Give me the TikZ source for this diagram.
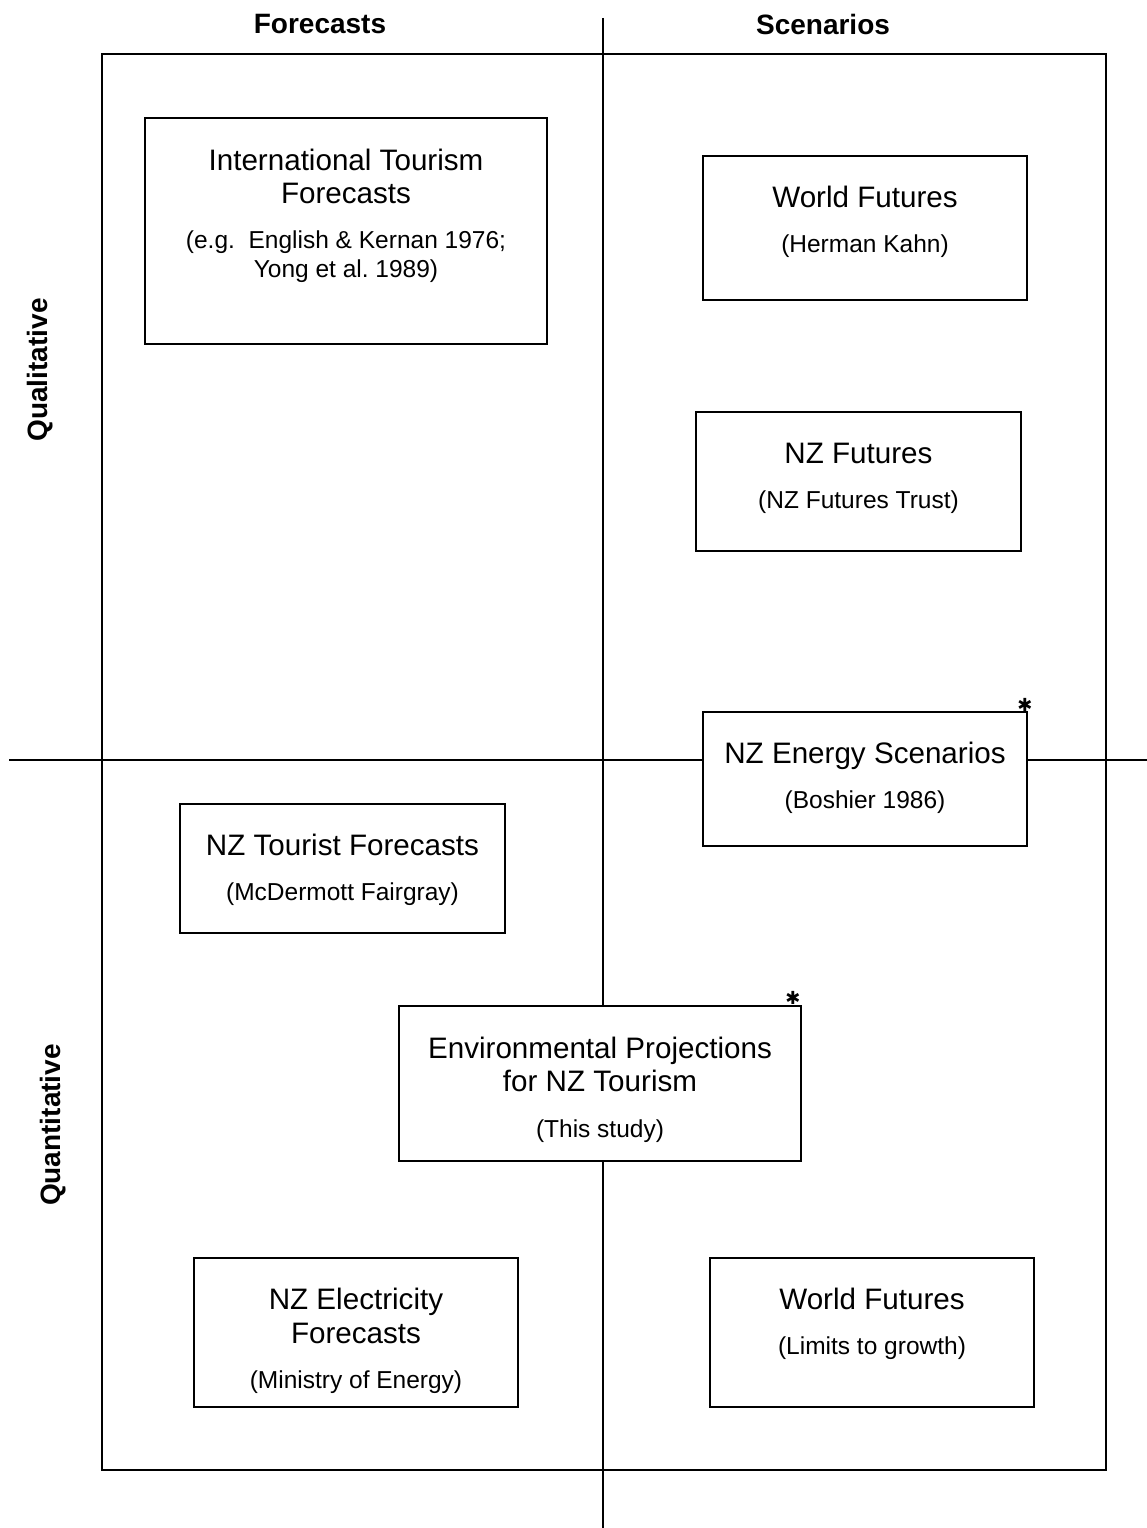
\documentclass[tikz,border=0pt]{standalone}
\usepackage{fontspec}
\setmainfont{Liberation Sans}
\newfontfamily\symfont{DejaVu Sans}
\begin{document}
\frenchspacing
\begin{tikzpicture}[x=1pt,y=-1pt,
  frame/.style={line width=1.8pt},
  axis/.style={line width=1.8pt},
  box/.style={draw,line width=1.8pt,fill=white,inner sep=0pt,rectangle},
  ttl/.style={anchor=base,inner sep=0pt,font=\fontsize{29.6}{34}\selectfont},
  sub/.style={anchor=base,inner sep=0pt,font=\fontsize{24.5}{29}\selectfont},
  head/.style={inner sep=0pt,font=\fontsize{28}{32}\selectfont\bfseries},
  starmark/.style={inner sep=0pt,font=\fontsize{18}{18}\selectfont\symfont}]
\useasboundingbox (0,0) rectangle (1147,1528);

% outer frame and axes
\draw[frame] (102,54) rectangle (1106,1470);
\coordinate (vt) at (603,18);
\coordinate (vb) at (603,1528);
\coordinate (hl) at (9,760);
\coordinate (hr) at (1147,760);
\draw[axis] (vt) -- (vb);
\draw[axis] (hl) -- (hr);

% axis headings
\node[head] (hf) at (320,24) {Forecasts};
\node[head] (hs) at (823,24) {Scenarios};
\node[head,rotate=90] (hq) at (40,370) {Qualitative};
\node[head,rotate=90] (hn) at (53,1125) {Quantitative};

% International Tourism Forecasts
\node[box,minimum width=402pt,minimum height=226pt] (b1) at (346,231) {};
\node[ttl] (b1a) at (346,170) {International Tourism};
\node[ttl] (b1b) at (346,203) {Forecasts};
\node[sub] (b1c) at (346,248) {(e.g.\ \ English \& Kernan 1976;};
\node[sub] (b1d) at (346,277) {Yong et al. 1989)};

% World Futures (Herman Kahn)
\node[box,minimum width=324pt,minimum height=144pt] (b2) at (865,228) {};
\node[ttl] (b2a) at (865,207.5) {World Futures};
\node[sub] (b2b) at (865,252) {(Herman Kahn)};

% NZ Futures
\node[box,minimum width=325pt,minimum height=139pt] (b3) at (858.5,481.5) {};
\node[ttl] (b3a) at (858.5,463.5) {NZ Futures};
\node[sub] (b3b) at (858.5,508) {(NZ Futures Trust)};

% NZ Energy Scenarios
\node[box,minimum width=324pt,minimum height=134pt] (b4) at (865,779) {};
\node[ttl] (b4a) at (865,763.5) {NZ Energy Scenarios};
\node[sub] (b4b) at (865,808) {(Boshier 1986)};
\node[starmark] (m4) at (1025,705) {✱};

% NZ Tourist Forecasts
\node[box,minimum width=325pt,minimum height=129pt] (b5) at (342.5,868.5) {};
\node[ttl] (b5a) at (342.5,855.5) {NZ Tourist Forecasts};
\node[sub] (b5b) at (342.5,900) {(McDermott Fairgray)};

% Environmental Projections for NZ Tourism
\node[box,minimum width=402pt,minimum height=155pt] (b6) at (600,1083.5) {};
\node[ttl] (b6a) at (600,1058.5) {Environmental Projections};
\node[ttl] (b6b) at (600,1091.5) {for NZ Tourism};
\node[sub] (b6c) at (600,1137) {(This study)};
\node[starmark] (m6) at (793,998) {✱};

% NZ Electricity Forecasts
\node[box,minimum width=324pt,minimum height=149pt] (b7) at (356,1332.5) {};
\node[ttl] (b7a) at (356,1309.5) {NZ Electricity};
\node[ttl] (b7b) at (356,1343.5) {Forecasts};
\node[sub] (b7c) at (356,1388) {(Ministry of Energy)};

% World Futures (Limits to growth)
\node[box,minimum width=324pt,minimum height=149pt] (b8) at (872,1332.5) {};
\node[ttl] (b8a) at (872,1309.5) {World Futures};
\node[sub] (b8b) at (872,1354) {(Limits to growth)};
\end{tikzpicture}
\end{document}
